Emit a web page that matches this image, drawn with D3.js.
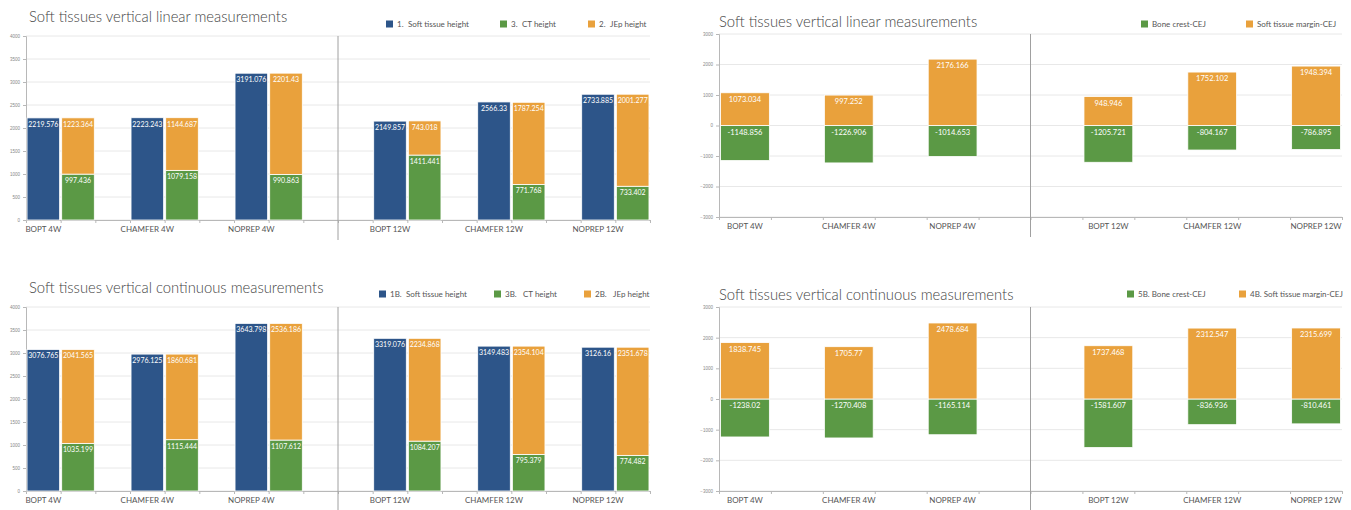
<!DOCTYPE html>
<html>
<head>
<meta charset="utf-8">
<script src="https://cdn.jsdelivr.net/npm/d3@7"></script>
<style>
  html, body { margin: 0; padding: 0; background: #fff; }
  svg { display: block; font-family: Lato, "Open Sans", sans-serif; }
</style>
</head>
<body>
<svg id="chart" width="1351" height="510"></svg>
<script>
// Groups on the category axis (4 weeks on the left, 12 weeks on the right)
const categories = ["BOPT 4W", "CHAMFER 4W", "NOPREP 4W", "BOPT 12W", "CHAMFER 12W", "NOPREP 12W"];

// Linear measurements
const linearSoftTissueHeight = [2219.576, 2223.243, 3191.076, 2149.857, 2566.33, 2733.885];
const linearCTHeight = [997.436, 1079.158, 990.863, 1411.441, 771.768, 733.402];
const linearJEpHeight = [1223.364, 1144.687, 2201.43, 743.018, 1787.254, 2001.277];
const linearBoneCrestCEJ = [-1148.856, -1226.906, -1014.653, -1205.721, -804.167, -786.895];
const linearSoftMarginCEJ = [1073.034, 997.252, 2176.166, 948.946, 1752.102, 1948.394];

// Continuous measurements
const contSoftTissueHeight = [3076.765, 2976.125, 3643.798, 3319.076, 3149.483, 3126.16];
const contCTHeight = [1035.199, 1115.444, 1107.612, 1084.207, 795.379, 774.482];
const contJEpHeight = [2041.565, 1860.681, 2536.186, 2234.868, 2354.104, 2351.678];
const contBoneCrestCEJ = [-1238.02, -1270.408, -1165.114, -1581.607, -836.936, -810.461];
const contSoftMarginCEJ = [1838.745, 1705.77, 2478.684, 1737.468, 2312.547, 2315.699];

// Axis ticks
const heightTicks = [0, 500, 1000, 1500, 2000, 2500, 3000, 3500, 4000];
const marginTicks = [-3000, -2000, -1000, 0, 1000, 2000, 3000];

// Legend labels: [number, name]
const heightLegendLinear = [["1.", "Soft tissue height"], ["3.", "CT height"], ["2.", "JEp height"]];
const heightLegendCont = [["1B.", "Soft tissue height"], ["3B.", "CT height"], ["2B.", "JEp height"]];
const marginLegendLinear = [["", "Bone crest-CEJ"], ["", "Soft tissue margin-CEJ"]];
const marginLegendCont = [["", "5B. Bone crest-CEJ"], ["", "4B. Soft tissue margin-CEJ"]];

const titles = ["Soft tissues vertical linear measurements", "Soft tissues vertical continuous measurements"];

const COLORS = { blue: "#2d5589", green: "#5b9945", orange: "#e9a13c" };
const GRID = "#e8e8e8", AXIS = "#b8b8b8", TEXT = "#555";

const svg = d3.select("#chart");
const fmt = d => String(d);

function frame(g, cfg, y, ticks, nSlots) {
  // horizontal gridlines
  g.append("g").selectAll("line").data(ticks).join("line")
    .attr("x1", cfg.x0).attr("x2", cfg.x1)
    .attr("y1", d => y(d)).attr("y2", d => y(d))
    .attr("stroke", GRID).attr("stroke-width", 1);

  // value axis
  const ya = g.append("g").attr("transform", `translate(${cfg.x0},0)`)
    .call(d3.axisLeft(y).tickValues(ticks).tickSize(3).tickPadding(3).tickFormat(d3.format("d")));
  ya.select(".domain").attr("stroke", AXIS);
  ya.selectAll(".tick line").attr("stroke", AXIS);
  ya.selectAll("text").attr("fill", "#888").style("font-size", "4.5px");

  // category axis with ticks at every slot edge
  const slotLin = d3.scaleLinear().domain([0, nSlots]).range([cfg.x0, cfg.x1]);
  const xa = g.append("g").attr("transform", `translate(0,${cfg.yBottom})`)
    .call(d3.axisBottom(slotLin).tickValues(d3.range(nSlots + 1)).tickSize(3).tickFormat(""));
  xa.select(".domain").attr("stroke", AXIS);
  xa.selectAll(".tick line").attr("stroke", AXIS);

  // separator between 4W and 12W groups
  g.append("line")
    .attr("x1", slotLin(nSlots / 2)).attr("x2", slotLin(nSlots / 2))
    .attr("y1", cfg.yTop).attr("y2", cfg.yBottom + 20)
    .attr("stroke", "#a0a0a0").attr("stroke-width", 1);

  g.append("text").attr("x", cfg.titleX).attr("y", cfg.titleY)
    .attr("fill", "#444").style("font-size", "14.8px").style("font-weight", 300)
    .text(cfg.title);
}

function legend(g, items, colors, xs, nameDx, yc) {
  items.forEach((t, i) => {
    g.append("rect").attr("x", xs[i]).attr("y", yc - 3.5).attr("width", 7).attr("height", 7)
      .attr("fill", colors[i]);
    const txt = g.append("text").attr("y", yc + 3)
      .attr("fill", TEXT).style("font-size", "8px");
    if (t[0]) txt.append("tspan").attr("x", xs[i] + 11).text(t[0]);
    txt.append("tspan").attr("x", xs[i] + 11 + (t[0] ? nameDx[i] : 0)).text(t[1]);
  });
}

function catLabels(g, cfg, centers) {
  g.append("g").selectAll("text").data(categories).join("text")
    .attr("x", (d, i) => centers[i]).attr("y", cfg.yBottom + 12)
    .attr("text-anchor", "middle").attr("fill", TEXT).style("font-size", "8px")
    .text(d => d);
}

function valueLabel(g, x, yTop, v, size) {
  g.append("text").attr("x", x).attr("y", yTop + 9)
    .attr("text-anchor", "middle").attr("fill", "#fff").style("font-size", size + "px")
    .text(fmt(v));
}

// Soft tissue / CT / JEp heights: a total column beside a stacked CT + JEp column
function heightPanel(cfg, total, ct, jep, legendItems) {
  const g = svg.append("g");
  const nSlots = categories.length * 3;
  const y = d3.scaleLinear().domain([0, 4000]).range([cfg.yBottom, cfg.yTop]);
  frame(g, cfg, y, heightTicks, nSlots);

  const slot = d3.scaleBand().domain(d3.range(nSlots)).range([cfg.x0, cfg.x1])
    .paddingInner(0.06).paddingOuter(0.03);
  // 4W groups sit at the start of their band, 12W groups at the end
  const slotOf = (i, col) => i * 3 + (i < 3 ? col : col + 1);

  const centers = [];
  categories.forEach((c, i) => {
    const xb = slot(slotOf(i, 0)), xs = slot(slotOf(i, 1)), w = slot.bandwidth();
    centers.push(xb + w / 2);
    g.append("rect").attr("x", xb).attr("width", w)
      .attr("y", y(total[i])).attr("height", y(0) - y(total[i]))
      .attr("fill", COLORS.blue).attr("stroke", "#fff").attr("stroke-width", 0.8);
    g.append("rect").attr("x", xs).attr("width", w)
      .attr("y", y(ct[i])).attr("height", y(0) - y(ct[i]))
      .attr("fill", COLORS.green).attr("stroke", "#fff").attr("stroke-width", 0.8);
    g.append("rect").attr("x", xs).attr("width", w)
      .attr("y", y(ct[i] + jep[i])).attr("height", y(ct[i]) - y(ct[i] + jep[i]))
      .attr("fill", COLORS.orange).attr("stroke", "#fff").attr("stroke-width", 0.8);
    valueLabel(g, xb + w / 2, y(total[i]), total[i], 7);
    valueLabel(g, xs + w / 2, y(ct[i]), ct[i], 7);
    valueLabel(g, xs + w / 2, y(ct[i] + jep[i]), jep[i], 7);
  });
  catLabels(g, cfg, centers);
  legend(g, legendItems, [COLORS.blue, COLORS.green, COLORS.orange], cfg.legendX, cfg.nameDx, cfg.legendY);
}

// Bone crest-CEJ (negative) and soft tissue margin-CEJ (positive) on one column
function marginPanel(cfg, bone, margin, legendItems) {
  const g = svg.append("g");
  const nSlots = categories.length * 2;
  const y = d3.scaleLinear().domain([-3000, 3000]).range([cfg.yBottom, cfg.yTop]);
  frame(g, cfg, y, marginTicks, nSlots);

  const slot = d3.scaleBand().domain(d3.range(nSlots)).range([cfg.x0, cfg.x1])
    .paddingInner(0.06).paddingOuter(0.03);
  const slotOf = i => i * 2 + (i < 3 ? 0 : 1);

  const centers = [];
  categories.forEach((c, i) => {
    const x = slot(slotOf(i)), w = slot.bandwidth();
    centers.push(x + w / 2);
    g.append("rect").attr("x", x).attr("width", w)
      .attr("y", y(0)).attr("height", y(bone[i]) - y(0))
      .attr("fill", COLORS.green).attr("stroke", "#fff").attr("stroke-width", 0.8);
    g.append("rect").attr("x", x).attr("width", w)
      .attr("y", y(margin[i])).attr("height", y(0) - y(margin[i]))
      .attr("fill", COLORS.orange).attr("stroke", "#fff").attr("stroke-width", 0.8);
    valueLabel(g, x + w / 2, y(margin[i]), margin[i], 7.5);
    valueLabel(g, x + w / 2, y(0), bone[i], 7.5);
  });
  catLabels(g, cfg, centers);
  legend(g, legendItems, [COLORS.green, COLORS.orange], cfg.legendX, [0, 0], cfg.legendY);
}

heightPanel({ x0: 26, x1: 650, yTop: 36, yBottom: 220, title: titles[0], titleX: 29, titleY: 22,
  legendX: [386, 500, 588], nameDx: [11, 11, 11], legendY: 24 },
  linearSoftTissueHeight, linearCTHeight, linearJEpHeight, heightLegendLinear);

marginPanel({ x0: 719, x1: 1342, yTop: 34, yBottom: 217, title: titles[0], titleX: 719, titleY: 27,
  legendX: [1141, 1246], legendY: 24 },
  linearBoneCrestCEJ, linearSoftMarginCEJ, marginLegendLinear);

heightPanel({ x0: 26, x1: 650, yTop: 307, yBottom: 491, title: titles[1], titleX: 29, titleY: 293,
  legendX: [379, 494, 584], nameDx: [16, 18, 18], legendY: 294 },
  contSoftTissueHeight, contCTHeight, contJEpHeight, heightLegendCont);

marginPanel({ x0: 719, x1: 1342, yTop: 307, yBottom: 491, title: titles[1], titleX: 719, titleY: 300,
  legendX: [1127, 1239], legendY: 294 },
  contBoneCrestCEJ, contSoftMarginCEJ, marginLegendCont);
</script>
</body>
</html>
